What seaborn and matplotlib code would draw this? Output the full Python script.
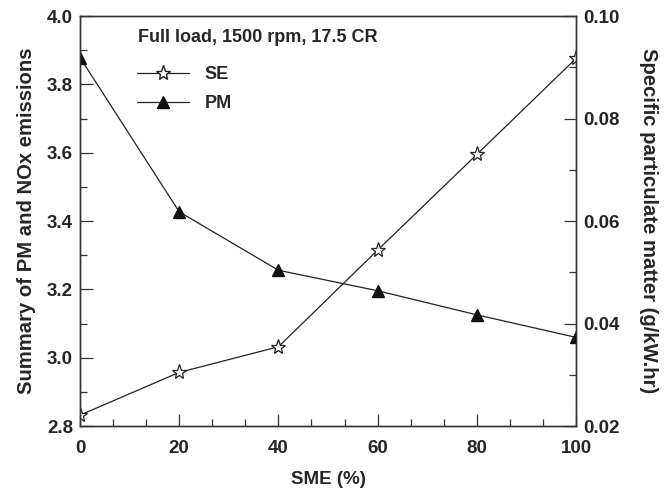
import numpy as np
import pandas as pd
import matplotlib
matplotlib.use("Agg")
import matplotlib.pyplot as plt
import matplotlib.ticker as mticker
from matplotlib.lines import Line2D
import seaborn as sns

sns.set_style("ticks")
plt.rcParams["font.family"] = ["Liberation Sans", "DejaVu Sans"]
plt.rcParams["font.weight"] = "bold"

sme = [0, 20, 40, 60, 80, 100]
se_values = [2.832, 2.957, 3.032, 3.315, 3.595, 3.876]
pm_values = [0.0919, 0.0618, 0.0504, 0.0464, 0.0417, 0.0373]

x_ticks = [0, 20, 40, 60, 80, 100]
left_ticks = [2.8, 3.0, 3.2, 3.4, 3.6, 3.8, 4.0]
right_ticks = [0.02, 0.04, 0.06, 0.08, 0.10]

df = pd.DataFrame({"SME": sme, "SE": se_values, "PM": pm_values})

fig = plt.figure(figsize=(6.67, 4.88), dpi=100)
ax = fig.add_axes([0.12, 0.127, 0.7436, 0.84])
ax2 = ax.twinx()

sns.lineplot(data=df, x="SME", y="SE", ax=ax, color="#222222", linewidth=0.9,
             marker="*", markersize=11, markerfacecolor="white",
             markeredgecolor="#222222", markeredgewidth=0.9)
sns.lineplot(data=df, x="SME", y="PM", ax=ax2, color="#222222", linewidth=0.9,
             marker="^", markersize=9, markerfacecolor="#111111",
             markeredgecolor="#111111", markeredgewidth=1.0)

ax.set_xlim(0, 100)
ax.set_ylim(2.8, 4.0)
ax2.set_ylim(0.02, 0.10)

ax.set_xticks(x_ticks)
ax.set_yticks(left_ticks)
ax2.set_yticks(right_ticks)
ax.xaxis.set_minor_locator(mticker.MultipleLocator(20 / 3))
ax.yaxis.set_minor_locator(mticker.MultipleLocator(0.1))
ax2.yaxis.set_minor_locator(mticker.MultipleLocator(0.01))
ax.yaxis.set_major_formatter(mticker.FormatStrFormatter("%.1f"))
ax2.yaxis.set_major_formatter(mticker.FormatStrFormatter("%.2f"))

for a in (ax, ax2):
    a.tick_params(which="major", direction="in", length=9, width=0.9,
                  labelsize=13.5, color="#333333")
    a.tick_params(which="minor", direction="in", length=5, width=0.9,
                  color="#333333")
    for s in a.spines.values():
        s.set_linewidth(1.0)
        s.set_color("#333333")
ax.tick_params(axis="x", which="both", top=False, pad=10)
ax.tick_params(axis="y", which="both", right=False, pad=5)
ax2.tick_params(axis="y", which="both", left=False, right=True, pad=5)

ax.set_xlabel("SME (%)", fontsize=13.5, fontweight="bold", labelpad=10)
ax.set_ylabel("Summary of PM and NOx emissions", fontsize=14.6,
              fontweight="bold", labelpad=8)
ax2.set_ylabel("Specific particulate matter (g/kW.hr)", fontsize=14.6,
               fontweight="bold", rotation=270, va="bottom", labelpad=14)

ax.text(0.117, 0.949, "Full load, 1500 rpm, 17.5 CR", transform=ax.transAxes,
        fontsize=13, fontweight="bold", va="center", ha="left")

handles = [
    Line2D([], [], color="#222222", linewidth=0.9, marker="*", markersize=11,
           markerfacecolor="white", markeredgecolor="#222222"),
    Line2D([], [], color="#222222", linewidth=0.9, marker="^", markersize=9,
           markerfacecolor="#111111", markeredgecolor="#111111"),
]
ax.legend(handles, ["SE", "PM"], loc="upper left", bbox_to_anchor=(0.114, 0.878),
          frameon=False, handlelength=2.9, handletextpad=0.85,
          labelspacing=0.65, borderpad=0, borderaxespad=0,
          prop={"weight": "bold", "size": 13})

fig.savefig("out.png", dpi=100)
